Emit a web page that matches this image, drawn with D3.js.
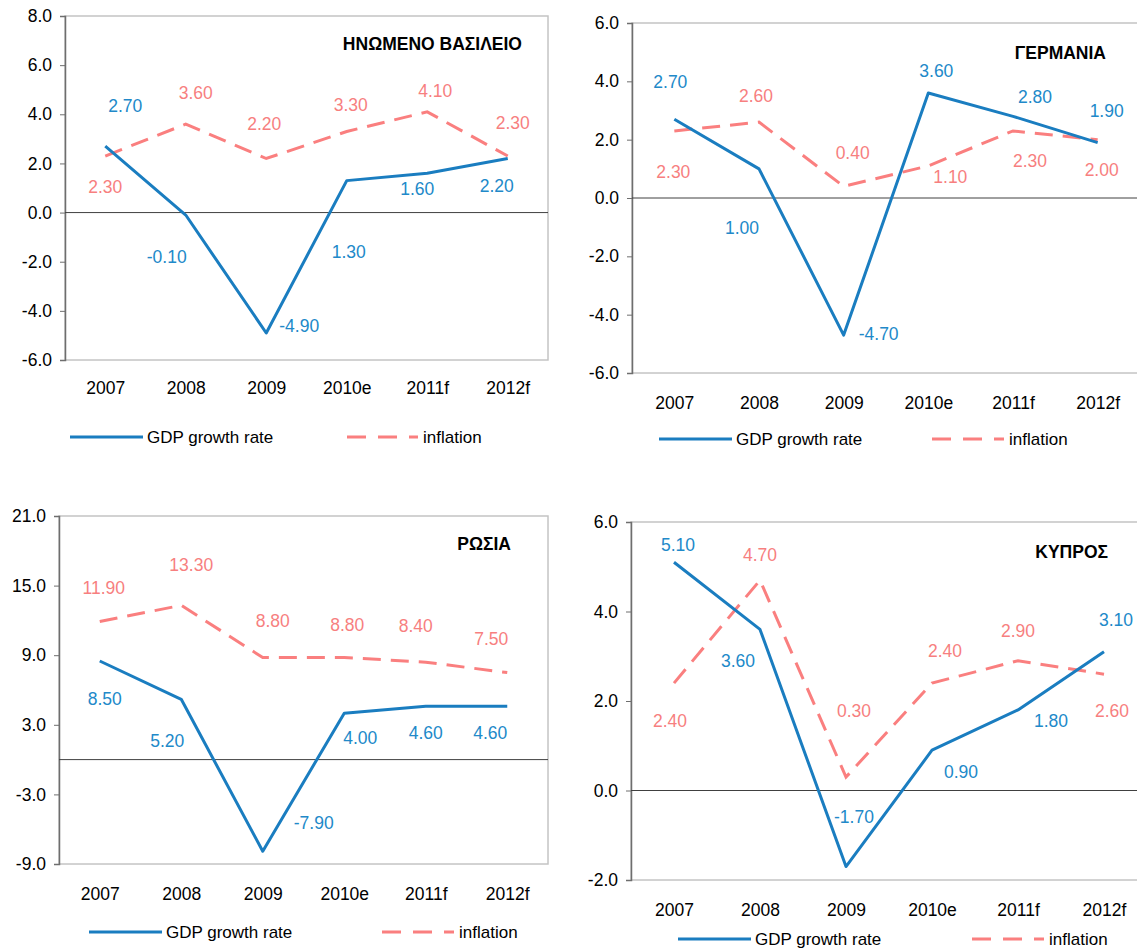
<!DOCTYPE html>
<html>
<head>
<meta charset="utf-8">
<script src="https://cdn.jsdelivr.net/npm/d3@7"></script>
<style>
  body { margin: 0; background: #fff; }
  text { font-family: "Liberation Sans", Arial, sans-serif; }
</style>
</head>
<body>
<svg id="chart" width="1137" height="950"></svg>
<script>
// categories
const years = ["2007", "2008", "2009", "2010e", "2011f", "2012f"];

// series values, one pair per country
const ukGdp = [2.7, -0.1, -4.9, 1.3, 1.6, 2.2];
const ukInfl = [2.3, 3.6, 2.2, 3.3, 4.1, 2.3];
const deGdp = [2.7, 1.0, -4.7, 3.6, 2.8, 1.9];
const deInfl = [2.3, 2.6, 0.4, 1.1, 2.3, 2.0];
const ruGdp = [8.5, 5.2, -7.9, 4.0, 4.6, 4.6];
const ruInfl = [11.9, 13.3, 8.8, 8.8, 8.4, 7.5];
const cyGdp = [5.1, 3.6, -1.7, 0.9, 1.8, 3.1];
const cyInfl = [2.4, 4.7, 0.3, 2.4, 2.9, 2.6];

// y tick labels
const ukTicks = [8, 6, 4, 2, 0, -2, -4, -6];
const deTicks = [6, 4, 2, 0, -2, -4, -6];
const ruTicks = [21, 15, 9, 3, -3, -9];
const cyTicks = [6, 4, 2, 0, -2];

const titles = ["ΗΝΩΜΕΝΟ ΒΑΣΙΛΕΙΟ", "ΓΕΡΜΑΝΙΑ", "ΡΩΣΙΑ", "ΚΥΠΡΟΣ"];
const seriesNames = ["GDP growth rate", "inflation"];

// where the value labels sit, relative to their point (dx, dy in px)
const ukGdpOff = [[20, -40], [-19, 42], [33, -7], [2, 71], [-10, 16], [-11, 27]];
const ukInflOff = [[0, 31], [10, -31], [-2, -35], [4, -27], [8, -21], [5, -33]];
const deGdpOff = [[-4, -37], [-17, 59], [35, -1], [8, -22], [22, -19], [9, -32]];
const deInflOff = [[-1, 41], [-3, -26], [9, -33], [22, 11], [17, 30], [4, 30]];
const ruGdpOff = [[5, 38], [-14, 42], [51, -28], [16, 25], [0, 27], [-17, 27]];
const ruInflOff = [[4, -34], [10, -40], [10, -37], [3, -33], [-10, -36], [-16, -34]];
const cyGdpOff = [[4, -17], [-22, 31], [8, -50], [29, 22], [33, 11], [12, -32]];
const cyInflOff = [[-4, 38], [0, -25], [8, -66], [13, -32], [0, -30], [8, 37]];

const blue = "#1a7dc0", blueText = "#2189c9";
const pink = "#fa7f7f", pinkText = "#f77f7f";
const FONT = "Liberation Sans, Arial, sans-serif";

// excel style numbers, plain hyphen for minus
const fmt1 = d => d3.format(".1f")(d).replace("−", "-");
const fmt2 = d => d3.format(".2f")(d).replace("−", "-");

const svg = d3.select("#chart");

const panels = [
  {title: titles[0], gdp: ukGdp, infl: ukInfl, ticks: ukTicks, gOff: ukGdpOff, iOff: ukInflOff,
   left: 65, right: 548, top: 16, bottom: 360, xLab: 388, titleX: 522, titleY: 44,
   legY: 437, legG: [70, 143], legI: [347, 418]},
  {title: titles[1], gdp: deGdp, infl: deInfl, ticks: deTicks, gOff: deGdpOff, iOff: deInflOff,
   left: 632, right: 1140, top: 23, bottom: 373, xLab: 403, titleX: 1106, titleY: 53,
   legY: 439, legG: [659, 732], legI: [932, 1004]},
  {title: titles[2], gdp: ruGdp, infl: ruInfl, ticks: ruTicks, gOff: ruGdpOff, iOff: ruInflOff,
   left: 59, right: 548, top: 516, bottom: 864, xLab: 894, titleX: 511, titleY: 544,
   legY: 932, legG: [89, 162], legI: [382, 454]},
  {title: titles[3], gdp: cyGdp, infl: cyInfl, ticks: cyTicks, gOff: cyGdpOff, iOff: cyInflOff,
   left: 631, right: 1147, top: 522, bottom: 880, xLab: 910, titleX: 1108, titleY: 552,
   legY: 939, legG: [678, 751], legI: [972, 1044]}
];

panels.forEach(drawPanel);

function drawPanel(p) {
  const g = svg.append("g");

  const x = d3.scalePoint().domain(years).range([p.left, p.right]).padding(0.5);
  const y = d3.scaleLinear().domain(d3.extent(p.ticks)).range([p.bottom, p.top]);

  // plot area border (top / right)
  g.append("rect")
      .attr("x", p.left).attr("y", p.top)
      .attr("width", p.right - p.left).attr("height", p.bottom - p.top)
      .attr("fill", "none").attr("stroke", "#c4c4c4").attr("stroke-width", 1.5);

  // y axis
  const yAxis = d3.axisLeft(y)
      .tickValues(p.ticks)
      .tickFormat(fmt1)
      .tickSize(5)
      .tickPadding(8);
  const ya = g.append("g")
      .attr("transform", "translate(" + p.left + ",0)")
      .call(yAxis);
  ya.select(".domain").attr("stroke", "#6e6e6e").attr("stroke-width", 1.5);
  ya.selectAll(".tick line").attr("stroke", "#6e6e6e");
  ya.selectAll(".tick text")
      .attr("fill", "#000")
      .style("font-size", "17.5px")
      .style("font-family", FONT);

  // x labels (no ticks)
  const xAxis = d3.axisBottom(x).tickSize(0).tickPadding(0);
  const xa = g.append("g")
      .attr("transform", "translate(0," + p.xLab + ")")
      .call(xAxis);
  xa.select(".domain").remove();
  xa.selectAll(".tick text")
      .attr("dy", "0.35em")
      .attr("fill", "#000")
      .style("font-size", "17.5px")
      .style("font-family", FONT);

  // zero line
  g.append("line")
      .attr("x1", p.left).attr("x2", p.right)
      .attr("y1", y(0)).attr("y2", y(0))
      .attr("stroke", "#404040").attr("stroke-width", 1);

  const line = d3.line()
      .x((d, i) => x(years[i]))
      .y(d => y(d));

  g.append("path")
      .datum(p.infl)
      .attr("d", line)
      .attr("fill", "none")
      .attr("stroke", pink)
      .attr("stroke-width", 3)
      .attr("stroke-dasharray", "18,10");

  g.append("path")
      .datum(p.gdp)
      .attr("d", line)
      .attr("fill", "none")
      .attr("stroke", blue)
      .attr("stroke-width", 3)
      .attr("stroke-linejoin", "round");

  // value labels
  function labels(vals, off, color) {
    g.append("g").selectAll("text")
      .data(vals)
      .enter().append("text")
        .attr("x", (d, i) => x(years[i]) + off[i][0])
        .attr("y", (d, i) => y(d) + off[i][1])
        .attr("dy", "0.35em")
        .attr("text-anchor", "middle")
        .attr("fill", color)
        .style("font-size", "17.5px")
        .text(fmt2);
  }
  labels(p.infl, p.iOff, pinkText);
  labels(p.gdp, p.gOff, blueText);

  // title
  g.append("text")
      .attr("x", p.titleX).attr("y", p.titleY)
      .attr("dy", "0.35em")
      .attr("text-anchor", "end")
      .style("font-size", "17.5px")
      .style("font-weight", "bold")
      .text(p.title);

  // legend
  g.append("line")
      .attr("x1", p.legG[0]).attr("x2", p.legG[1])
      .attr("y1", p.legY).attr("y2", p.legY)
      .attr("stroke", blue).attr("stroke-width", 3);
  g.append("text")
      .attr("x", p.legG[1] + 4).attr("y", p.legY)
      .attr("dy", "0.35em")
      .style("font-size", "17px")
      .text(seriesNames[0]);
  g.append("line")
      .attr("x1", p.legI[0]).attr("x2", p.legI[1])
      .attr("y1", p.legY).attr("y2", p.legY)
      .attr("stroke", pink).attr("stroke-width", 3)
      .attr("stroke-dasharray", "19,12");
  g.append("text")
      .attr("x", p.legI[1] + 5).attr("y", p.legY)
      .attr("dy", "0.35em")
      .style("font-size", "17px")
      .text(seriesNames[1]);
}
</script>
</body>
</html>
